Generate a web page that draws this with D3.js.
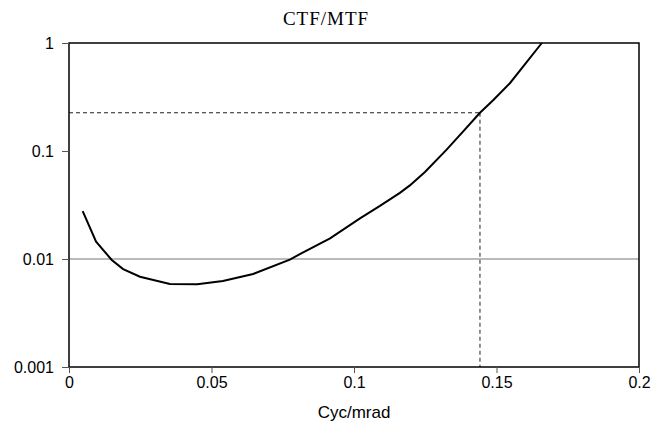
<!DOCTYPE html>
<html><head><meta charset="utf-8">
<script src="https://cdn.jsdelivr.net/npm/d3@7"></script>
<style>body{margin:0;background:#fff}</style>
</head><body>
<svg id="c" width="665" height="428"></svg>
<script>
const title = "CTF/MTF";
const xLabel = "Cyc/mrad";
const xTicks = [0, 0.05, 0.1, 0.15, 0.2];
const xTickLabels = ["0", "0.05", "0.1", "0.15", "0.2"];
const yTicks = [0.001, 0.01, 0.1, 1];
const yTickLabels = ["0.001", "0.01", "0.1", "1"];
const freq = [0.0048, 0.0095, 0.015, 0.019, 0.0249, 0.0354, 0.045, 0.054, 0.0646, 0.0775, 0.081, 0.0916, 0.1021, 0.1091, 0.1161, 0.1196, 0.1249, 0.1325, 0.1384, 0.1442, 0.1489, 0.1547, 0.1659];
const ratio = [0.0278, 0.01445, 0.0098, 0.00807, 0.00686, 0.00587, 0.00583, 0.00626, 0.00726, 0.00986, 0.0111, 0.01555, 0.0238, 0.031, 0.041, 0.048, 0.064, 0.103, 0.153, 0.226, 0.297, 0.424, 1.0];
const markX = [0.1442];
const markY = [0.226];
const refLine = [0.01];

const svg = d3.select("#c");
const m = {l:69, r:26, t:43, b:61};
const W = 665, H = 428;
const x = d3.scaleLinear().domain([0, 0.2]).range([m.l, W - m.r]);
const y = d3.scaleLog().domain([0.001, 1]).range([H - m.b, m.t]);

// reference line at 0.01
svg.selectAll(".ref").data(refLine).join("line")
  .attr("x1", x(0)).attr("x2", x(0.2))
  .attr("y1", d => y(d)).attr("y2", d => y(d))
  .attr("stroke", "#777").attr("stroke-width", 1);

// dashed markers
svg.append("line").attr("x1", x(0)).attr("x2", x(markX[0]))
  .attr("y1", y(markY[0])).attr("y2", y(markY[0]))
  .attr("stroke", "#222").attr("stroke-width", 1).attr("stroke-dasharray", "4,3");
svg.append("line").attr("x1", x(markX[0])).attr("x2", x(markX[0]))
  .attr("y1", y(markY[0])).attr("y2", y(0.001))
  .attr("stroke", "#222").attr("stroke-width", 1).attr("stroke-dasharray", "4,3");

// curve
const pts = freq.map((f, i) => [f, ratio[i]]);
svg.append("path").datum(pts)
  .attr("fill", "none").attr("stroke", "#000").attr("stroke-width", 2)
  .attr("d", d3.line().x(d => x(d[0])).y(d => y(d[1])));

// frame
svg.append("rect").attr("x", x(0)).attr("y", y(1))
  .attr("width", x(0.2) - x(0)).attr("height", y(0.001) - y(1))
  .attr("fill", "none").attr("stroke", "#000").attr("stroke-width", 1.5);

const sans = "Liberation Sans, Arial, sans-serif";
// axes
const xAxis = d3.axisBottom(x).tickValues(xTicks).tickFormat((d, i) => xTickLabels[i]).tickSize(6).tickSizeOuter(0);
const gx = svg.append("g").attr("transform", `translate(0,${y(0.001)})`).call(xAxis);
gx.select(".domain").remove();
gx.selectAll("line").attr("stroke", "#555");
gx.selectAll("text").attr("font-family", sans).attr("font-size", 16).attr("fill", "#000").attr("y", 9).attr("dy", "0.75em");

const yAxis = d3.axisLeft(y).tickValues(yTicks).tickFormat((d, i) => yTickLabels[i]).tickSize(7).tickSizeOuter(0);
const gy = svg.append("g").attr("transform", `translate(${x(0)},0)`).call(yAxis);
gy.select(".domain").remove();
gy.selectAll("line").attr("stroke", "#555");
gy.selectAll("text").attr("font-family", sans).attr("font-size", 16).attr("fill", "#000").attr("x", -15);

svg.append("text").attr("x", (x(0) + x(0.2)) / 2).attr("y", 418).attr("text-anchor", "middle")
  .attr("font-family", sans).attr("font-size", 17).text(xLabel);
svg.append("text").attr("x", 326).attr("y", 25).attr("text-anchor", "middle")
  .attr("font-family", "Liberation Serif, Times New Roman, serif").attr("font-size", 19)
  .attr("letter-spacing", 1).text(title);
</script>
</body></html>
